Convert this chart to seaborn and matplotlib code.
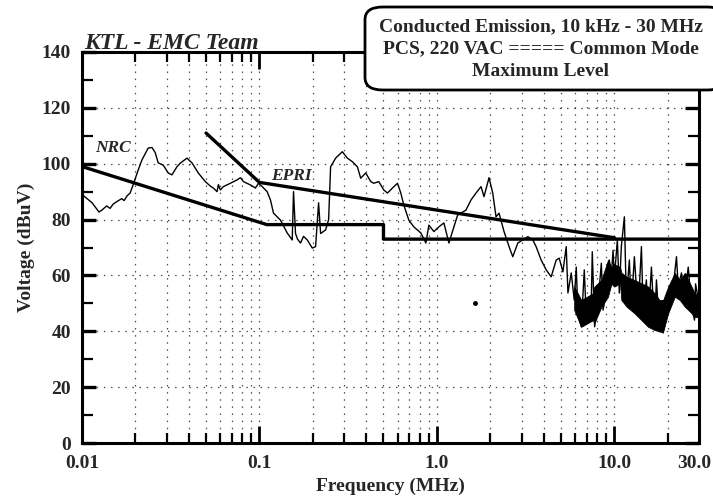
import numpy as np
import pandas as pd
import matplotlib
matplotlib.use("Agg")
import matplotlib.pyplot as plt
import matplotlib.transforms as mtransforms
import seaborn as sns
from matplotlib.ticker import FixedLocator, FixedFormatter, NullFormatter
from matplotlib.patches import FancyBboxPatch

# ---------------- data ----------------
trace_freq = [
    0.0100, 0.0114, 0.01247, 0.0130, 0.01378, 0.01439, 0.01496, 0.01577, 0.01676, 0.01727,
    0.01795, 0.01867, 0.01941, 0.02072, 0.02175, 0.0236, 0.0248, 0.02585, 0.02688, 0.02869,
    0.0306, 0.03211, 0.03428, 0.03579, 0.03904, 0.04167, 0.04521, 0.04953, 0.05285, 0.05497,
    0.05768, 0.05867, 0.06021, 0.06259, 0.06857, 0.07482, 0.07811, 0.08121, 0.08896, 0.09494,
    0.09871, 0.1036, 0.1105, 0.1154, 0.1200, 0.1314, 0.1434, 0.1530, 0.1556, 0.1597,
    0.1639, 0.1704, 0.1772, 0.1860, 0.1985, 0.2072, 0.2154, 0.2212, 0.2360, 0.2454,
    0.2518, 0.2688, 0.2932, 0.3129, 0.3341, 0.3565, 0.3721, 0.3971, 0.4239, 0.4406,
    0.4704, 0.5020, 0.5266, 0.5620, 0.5998, 0.6261, 0.651, 0.6948, 0.7413, 0.8121,
    0.8668, 0.9012, 0.962, 1.026, 1.095, 1.169, 1.247, 1.309, 1.458, 1.556,
    1.661, 1.773, 1.843, 1.967, 2.064, 2.154, 2.240, 2.390, 2.551, 2.677,
    2.857, 3.049, 3.254, 3.473, 3.625, 3.869, 4.129, 4.407, 4.703, 4.89,
    5.131, 5.356, 5.476, 5.716, 5.943, 6.10, 6.236, 6.511, 6.77, 6.948,
    7.416, 7.512, 7.743, 8.093, 8.447, 8.636, 9.014, 9.213, 9.371, 9.618,
    9.833, 10.0, 10.4, 10.67, 10.95, 11.39, 11.69, 12.15, 12.47, 12.97,
    13.61, 14.21, 14.53, 15.16, 15.5, 16.18, 16.83, 17.27, 17.96, 18.84,
    19.67, 20.45, 21.46, 22.4, 22.9, 23.9, 24.86, 26.09, 27.23, 28.31,
    28.69, 30.0,
]
trace_level = [
    89.0, 86.0, 82.7, 83.5, 84.9, 84.0, 85.5, 86.5, 87.5, 86.8,
    88.5, 89.5, 92.4, 97.7, 101.3, 105.6, 105.8, 104.0, 100.3, 99.5,
    96.7, 96.0, 98.9, 100.2, 102.0, 100.3, 96.7, 93.6, 92.0, 91.3,
    90.0, 92.5, 90.6, 91.8, 93.0, 94.2, 95.0, 93.6, 92.4, 91.3,
    93.0, 91.8, 90.0, 87.0, 82.3, 79.8, 75.2, 72.7, 90.0, 75.0,
    73.0, 71.6, 74.0, 72.7, 69.8, 70.3, 86.0, 75.0, 76.3, 80.0,
    98.9, 102.0, 104.3, 102.0, 100.7, 98.9, 94.8, 96.7, 93.6, 93.0,
    93.6, 90.6, 89.5, 91.3, 93.0, 89.5, 85.2, 79.8, 77.4, 75.2,
    71.6, 78.0, 75.7, 77.4, 78.8, 71.6, 77.4, 81.6, 83.4, 87.0,
    89.5, 91.8, 88.2, 95.0, 89.5, 81.0, 82.3, 75.7, 70.3, 66.7,
    71.6, 72.7, 73.9, 72.7, 70.3, 65.5, 62.0, 59.5, 65.5, 66.2,
    61.3, 70.3, 53.7, 60.9, 51.2, 63.0, 46.5, 41.6, 62.0, 45.2,
    51.2, 68.5, 41.6, 50.0, 64.4, 47.6, 53.7, 63.0, 65.5, 59.5,
    69.0, 59.0, 72.7, 53.7, 70.3, 81.0, 51.2, 65.5, 48.8, 66.7,
    46.5, 70.3, 47.6, 58.4, 43.0, 63.0, 41.6, 58.4, 40.5, 39.4,
    47.6, 51.2, 56.0, 66.7, 56.0, 60.9, 51.2, 63.0, 48.8, 44.0,
    57.0, 50.0,
]

# dense noise band (lower / upper envelope)
band_freq = [5.94, 6.51, 7.58, 7.72, 8.45, 9.21, 9.62, 10.0, 10.77, 10.95, 11.73, 12.97,
             14.21, 15.5, 16.83, 17.96, 18.84, 20.11, 21.91, 23.38, 24.96, 27.23, 28.31, 30.0]
band_lo = [47.6, 41.6, 44.0, 42.9, 48.8, 52.4, 57.0, 56.0, 57.2, 51.2, 48.8, 46.5,
           44.0, 41.6, 40.5, 39.9, 39.9, 46.5, 52.4, 51.2, 48.8, 46.5, 45.2, 45.0]
band_hi = [56.0, 51.2, 53.6, 56.0, 58.4, 65.5, 63.0, 64.0, 63.0, 61.0, 59.5, 58.4,
           57.2, 56.0, 53.7, 51.2, 51.2, 56.0, 60.9, 58.4, 60.9, 56.0, 53.7, 53.0]

nrc_freq = [0.01, 0.11, 0.5, 0.5, 30.0]
nrc_level = [99.0, 78.2, 78.2, 73.0, 73.0]

epri_freq = [0.05, 0.1, 10.0]
epri_level = [111.0, 93.3, 73.5]

x_major = [0.01, 0.1, 1.0, 10.0, 30.0]
x_major_labels = ["0.01", "0.1", "1.0", "10.0", "30.0"]
y_major = [0, 20, 40, 60, 80, 100, 120, 140]
y_minor = [10, 30, 50, 70, 90, 110, 130]

stray_freq = [1.64]
stray_level = [50.1]

# ---------------- figure ----------------
sns.set_theme(style="white")
plt.rcParams["font.family"] = ["Liberation Serif", "DejaVu Serif"]
plt.rcParams["font.weight"] = "bold"

fig = plt.figure(figsize=(7.13, 5.0), dpi=100)
ax = fig.add_axes([82 / 713, 57 / 500, 617 / 713, 391 / 500])

ax.set_xscale("log")
ax.set_xlim(0.01, 30)
ax.set_ylim(0, 140)

# grid
x_minor = [m * d for d in (0.01, 0.1, 1.0) for m in range(2, 10)] + [20.0]
ax.xaxis.set_major_locator(FixedLocator(x_major))
ax.xaxis.set_major_formatter(FixedFormatter(x_major_labels))
ax.xaxis.set_minor_locator(FixedLocator(x_minor))
ax.xaxis.set_minor_formatter(NullFormatter())
ax.yaxis.set_major_locator(FixedLocator(y_major))
ax.yaxis.set_minor_locator(FixedLocator(y_minor))

grid_kw = dict(color="black", linestyle=(0, (1.2, 4.5)), linewidth=0.9, alpha=0.7)
ax.grid(True, which="both", axis="x", **grid_kw)
ax.grid(True, which="major", axis="y", **grid_kw)
ax.set_axisbelow(True)

# measured trace
df_trace = pd.DataFrame({"freq": trace_freq, "level": trace_level})
ax.fill_between(band_freq, band_lo, band_hi, color="black", linewidth=0.6, zorder=3)
sns.lineplot(data=df_trace, x="freq", y="level", sort=False, estimator=None,
             color="black", linewidth=1.0, ax=ax, zorder=4)
ax.plot(stray_freq, stray_level, "o", color="black", markersize=2.5, zorder=4)

# limit lines
df_nrc = pd.DataFrame({"freq": nrc_freq, "level": nrc_level})
df_epri = pd.DataFrame({"freq": epri_freq, "level": epri_level})
sns.lineplot(data=df_nrc, x="freq", y="level", sort=False, estimator=None,
             color="black", linewidth=2.4, ax=ax, zorder=5)
sns.lineplot(data=df_epri, x="freq", y="level", sort=False, estimator=None,
             color="black", linewidth=2.4, ax=ax, zorder=5)

ax.text(0.0118, 105.5, "NRC", fontsize=12.5, fontstyle="italic", fontweight="bold",
        ha="left", va="center", zorder=6)
ax.text(0.117, 95.5, "EPRI", fontsize=12.5, fontstyle="italic", fontweight="bold",
        ha="left", va="center", zorder=6)

# spines & ticks
for s in ax.spines.values():
    s.set_visible(True)
    s.set_color("black")
    s.set_linewidth(2.2)

ax.tick_params(axis="x", which="major", direction="in", top=True, bottom=True,
               length=12, width=2.0, color="black", labelsize=14, pad=9)
ax.tick_params(axis="x", which="minor", direction="in", top=True, bottom=True,
               length=7, width=1.6, color="black")
ax.tick_params(axis="y", which="major", direction="in", left=True, right=True,
               length=10, width=2.4, color="black", labelsize=14, pad=8)
ax.tick_params(axis="y", which="minor", direction="in", left=True, right=True,
               length=8, width=1.6, color="black")
for lbl in ax.get_xticklabels() + ax.get_yticklabels():
    lbl.set_fontweight("bold")
# keep the last x label inside the figure
last = ax.get_xticklabels()[-1]
last.set_transform(last.get_transform() +
                   mtransforms.ScaledTranslation(-5 / 100, 0, fig.dpi_scale_trans))

ax.set_xlabel("Frequency (MHz)", fontsize=14, fontweight="bold", labelpad=4)
ax.set_ylabel("Voltage (dBuV)", fontsize=14, fontweight="bold", labelpad=5)

# header texts
fig.text(84 / 713, 1 - 49 / 500, "KTL - EMC Team", fontsize=17, fontstyle="italic",
         fontweight="bold", ha="left", va="baseline")

box = FancyBboxPatch((365 / 713, 1 - 90 / 500), 360 / 713, 83 / 500,
                     boxstyle="round,pad=0,rounding_size=0.025",
                     transform=fig.transFigure, facecolor="white",
                     edgecolor="black", linewidth=2.0, zorder=10, clip_on=False)
fig.add_artist(box)
for ytxt, s in [(27, "Conducted Emission, 10 kHz - 30 MHz"),
                (49, "PCS, 220 VAC ===== Common Mode"),
                (71, "Maximum Level")]:
    fig.text(541 / 713, 1 - ytxt / 500, s, fontsize=14, fontweight="bold",
             ha="center", va="center", zorder=11)

fig.savefig("out.png", dpi=100)
